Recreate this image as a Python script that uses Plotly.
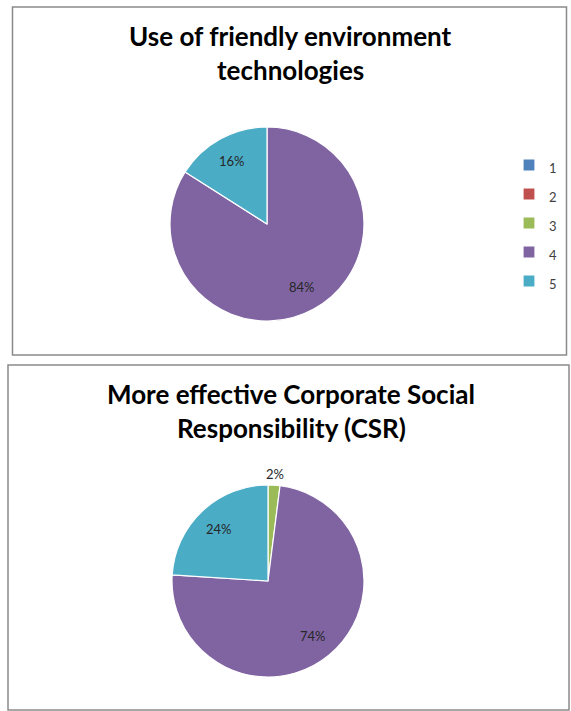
import math
import plotly.graph_objects as go

# Survey answer scale (1 = strongly disagree ... 5 = strongly agree)
categories = ["1", "2", "3", "4", "5"]

# Share of respondents per answer, in percent
eco_tech_share = [0, 0, 0, 84, 16]
csr_share = [0, 0, 2, 74, 24]

eco_tech_title = ["Use of friendly environment", "technologies"]
csr_title = ["More effective Corporate Social", "Responsibility (CSR)"]

slice_colors = ["#4F81BD", "#C0504D", "#9BBB59", "#8064A2", "#4BACC6"]

W, H = 571, 711
FONT = "Lato"


def px(x):
    return x / W


def py(y):
    return 1 - y / H


legend_labels = [f"<span style='font-size:13px'>{c}</span>" for c in categories]


def pie(values, center, radius, legend_id):
    cx, cy = center
    return go.Pie(
        labels=legend_labels,
        values=values,
        sort=False,
        direction="clockwise",
        rotation=0,
        marker=dict(colors=slice_colors, line=dict(color="white", width=1.2)),
        textinfo="none",
        domain=dict(x=[px(cx - radius), px(cx + radius)],
                    y=[py(cy + radius), py(cy - radius)]),
        legend=legend_id,
        hovertemplate="%{label}: %{percent}<extra></extra>",
    )


def percent_labels(values, center, radius, small_share=5):
    """Percent labels at each slice's mid-angle (clockwise from 12 o'clock)."""
    cx, cy = center
    total = sum(values)
    out = []
    cum = 0
    for v in values:
        if v > 0:
            theta = 2 * math.pi * (cum + v / 2) / total
            r = radius * (1.12 if v < small_share else 0.74)
            x = cx + r * math.sin(theta)
            y = cy - r * math.cos(theta)
            out.append(dict(text=f"{round(100 * v / total)}%", x=px(x), y=py(y),
                            xref="paper", yref="paper", showarrow=False,
                            xanchor="center", yanchor="middle",
                            font=dict(family=FONT, size=13, color="#262626")))
        cum += v
    return out


eco_center, eco_r = (267, 224), 97
csr_center, csr_r = (268, 581), 96

fig = go.Figure()
fig.add_trace(pie(eco_tech_share, eco_center, eco_r, "legend"))
fig.add_trace(pie(csr_share, csr_center, csr_r, "legend2"))

# Panel frames
frames = [(12.5, 7, 566.5, 355), (8, 365, 569, 710)]
shapes = []
for x0, y0, x1, y1 in frames:
    shapes.append(dict(type="rect", xref="paper", yref="paper",
                       x0=px(x0), x1=px(x1), y0=py(y1), y1=py(y0),
                       line=dict(color="#8a8a8a", width=1.5),
                       fillcolor="rgba(0,0,0,0)", layer="below"))

# Chart titles, one annotation per line
TITLE_SIZE = 26
annotations = []
for lines, cx, baselines in [(eco_tech_title, 290, (47, 81)),
                             (csr_title, 291, (405, 439))]:
    for text, base in zip(lines, baselines):
        annotations.append(dict(text=f"<b>{text}</b>", x=px(cx),
                                y=py(base + 0.27 * TITLE_SIZE),
                                xref="paper", yref="paper", xanchor="center",
                                yanchor="bottom", showarrow=False,
                                font=dict(family=FONT, size=TITLE_SIZE,
                                          color="#000000")))

annotations += percent_labels(eco_tech_share, eco_center, eco_r)
annotations += percent_labels(csr_share, csr_center, csr_r)

legend_style = dict(font=dict(family=FONT, size=20, color="#404040"),
                    bgcolor="rgba(0,0,0,0)", traceorder="normal",
                    xanchor="left", yanchor="middle")

fig.update_layout(
    width=W, height=H,
    margin=dict(l=0, r=0, t=0, b=0),
    paper_bgcolor="white", plot_bgcolor="white",
    shapes=shapes,
    annotations=annotations,
    showlegend=True,
    legend=dict(x=px(509), y=py(223), **legend_style),
    legend2=dict(x=px(511), y=py(580), **legend_style),
)

fig.write_html("out.html")
